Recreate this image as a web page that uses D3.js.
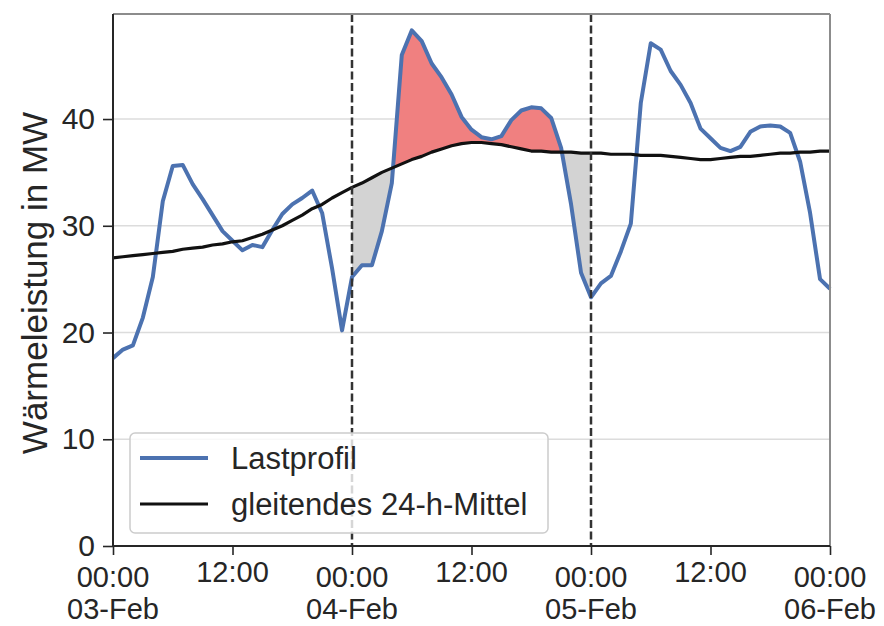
<!DOCTYPE html>
<html>
<head>
<meta charset="utf-8">
<script src="https://cdn.jsdelivr.net/npm/d3@7"></script>
<style>
  body { margin: 0; background: #fff; }
  text { font-family: "Liberation Sans", Arial, sans-serif; fill: #262626; }
</style>
</head>
<body>
<svg id="chart" width="884" height="626"></svg>
<script>
// stundenwerte 03.02. 00:00 bis 06.02. 00:00
const lastprofil = [
    17.6, 18.4, 18.8, 21.4, 25.2, 32.3, 35.6, 35.7, 33.9, 32.5, 31.0, 29.5,
    28.6, 27.7, 28.2, 28.0, 29.6, 31.1, 32.0, 32.6, 33.3, 31.2, 26.0, 20.2,
    25.2, 26.3, 26.3, 29.5, 34.0, 46.0, 48.3, 47.3, 45.2, 43.9, 42.3, 40.2,
    39.0, 38.3, 38.1, 38.4, 39.9, 40.8, 41.1, 41.0, 40.1, 37.3, 32.0, 25.6,
    23.3, 24.6, 25.3, 27.6, 30.2, 41.5, 47.1, 46.5, 44.5, 43.2, 41.5, 39.1,
    38.2, 37.3, 37.0, 37.4, 38.8, 39.3, 39.4, 39.3, 38.7, 36.0, 31.2, 25.0,
    24.1
]
const mittel = [
    27.0, 27.1, 27.2, 27.3, 27.4, 27.5, 27.6, 27.8, 27.9, 28.0, 28.2, 28.3,
    28.5, 28.6, 28.9, 29.2, 29.6, 30.0, 30.5, 31.0, 31.6, 32.0, 32.6, 33.1,
    33.6, 34.0, 34.5, 35.0, 35.4, 35.8, 36.2, 36.5, 36.9, 37.2, 37.5, 37.7,
    37.8, 37.8, 37.7, 37.6, 37.4, 37.2, 37.0, 37.0, 36.9, 36.9, 36.9, 36.8,
    36.8, 36.8, 36.7, 36.7, 36.7, 36.6, 36.6, 36.6, 36.5, 36.4, 36.3, 36.2,
    36.2, 36.3, 36.4, 36.5, 36.5, 36.6, 36.7, 36.8, 36.8, 36.9, 36.9, 37.0,
    37.0
]
const yTicks = [0, 10, 20, 30, 40]
const xTickHours = [0, 12, 24, 36, 48, 60, 72]
const dayLines = [24, 48]
const fillRange = [24, 48]
const legendLabels = ['Lastprofil', 'gleitendes 24-h-Mittel']

const start = new Date(Date.UTC(2020, 1, 3))
const t = h => new Date(start.getTime() + h * 3600e3)

const mLeft = 113, mRight = 830, mTop = 14, mBottom = 546

const x = d3.scaleUtc()
            .domain([t(0), t(72)])
            .range([mLeft, mRight])
const y = d3.scaleLinear()
            .domain([0, 49.84])
            .range([mBottom, mTop])

const svg = d3.select('#chart')
svg.append('rect').attr('width', 884).attr('height', 626).attr('fill', '#fff')

// grid
svg.append('g')
    .selectAll('line')
    .data(yTicks)
    .enter()
    .append('line')
    .attr('x1', mLeft).attr('x2', mRight)
    .attr('y1', d => y(d)).attr('y2', d => y(d))
    .attr('stroke', '#dcdcdc')
    .attr('stroke-width', 1.5)

// flaechen zwischen lastprofil und mittel am 04.02.
const pts = []
for (let i = fillRange[0]; i <= fillRange[1]; i++) {
    pts.push({ h: i, last: lastprofil[i], avg: mittel[i] })
    if (i < fillRange[1]) {
        const d0 = lastprofil[i] - mittel[i]
        const d1 = lastprofil[i + 1] - mittel[i + 1]
        if (d0 * d1 < 0) {
            const f = d0 / (d0 - d1)
            const v = mittel[i] + f * (mittel[i + 1] - mittel[i])
            pts.push({ h: i + f, last: v, avg: v })
        }
    }
}

const areaAbove = d3.area()
    .x(d => x(t(d.h)))
    .y0(d => y(d.avg))
    .y1(d => y(Math.max(d.last, d.avg)))
const areaBelow = d3.area()
    .x(d => x(t(d.h)))
    .y0(d => y(d.avg))
    .y1(d => y(Math.min(d.last, d.avg)))

svg.append('path').attr('d', areaAbove(pts)).attr('fill', '#f08080')
svg.append('path').attr('d', areaBelow(pts)).attr('fill', '#d3d3d3')

const line = d3.line()
    .x((d, i) => x(t(i)))
    .y(d => y(d))

svg.append('path')
    .attr('d', line(lastprofil))
    .attr('fill', 'none')
    .attr('stroke', '#4c72b0')
    .attr('stroke-width', 4)
    .attr('stroke-linejoin', 'round')

svg.append('path')
    .attr('d', line(mittel))
    .attr('fill', 'none')
    .attr('stroke', '#111')
    .attr('stroke-width', 3.2)
    .attr('stroke-linejoin', 'round')

// tagesgrenzen
svg.append('g')
    .selectAll('line')
    .data(dayLines)
    .enter()
    .append('line')
    .attr('x1', d => x(t(d))).attr('x2', d => x(t(d)))
    .attr('y1', mTop).attr('y2', mBottom)
    .attr('stroke', '#333')
    .attr('stroke-width', 2.5)
    .attr('stroke-dasharray', '8,3.5')

// rahmen
svg.append('line').attr('x1', mLeft).attr('x2', mRight).attr('y1', mTop).attr('y2', mTop)
    .attr('stroke', '#8c8c8c').attr('stroke-width', 2)
svg.append('line').attr('x1', mRight).attr('x2', mRight).attr('y1', mTop).attr('y2', mBottom)
    .attr('stroke', '#8c8c8c').attr('stroke-width', 2)
svg.append('line').attr('x1', mLeft).attr('x2', mLeft).attr('y1', mTop).attr('y2', mBottom + 1)
    .attr('stroke', '#262626').attr('stroke-width', 2)
svg.append('line').attr('x1', mLeft - 1).attr('x2', mRight).attr('y1', mBottom).attr('y2', mBottom)
    .attr('stroke', '#262626').attr('stroke-width', 2)

// achsen
const yAxis = svg.append('g')
    .attr('transform', `translate(${mLeft},0)`)
    .call(d3.axisLeft(y).tickValues(yTicks).tickSize(10).tickPadding(8))
yAxis.select('.domain').remove()
yAxis.selectAll('line').attr('stroke', '#262626').attr('stroke-width', 1.6)
yAxis.selectAll('text')
    .attr('font-size', 30)
    .attr('fill', '#262626')
    .style('font-family', '"Liberation Sans", Arial, sans-serif')

const xAxis = svg.append('g')
    .attr('transform', `translate(0,${mBottom})`)
    .call(d3.axisBottom(x).tickValues(xTickHours.map(t)).tickSize(9).tickFormat(''))
xAxis.select('.domain').remove()
xAxis.selectAll('line').attr('stroke', '#262626').attr('stroke-width', 1.6)

const fmtTime = d3.utcFormat('%H:%M')
const fmtDay = d3.utcFormat('%d-%b')

const xLabels = svg.append('g')
    .selectAll('text')
    .data(xTickHours)
    .enter()
    .append('text')
    .attr('text-anchor', 'middle')
    .attr('font-size', 29)
    .attr('x', d => x(t(d)))
    .attr('y', d => d % 24 === 0 ? 587 : 582)

xLabels.append('tspan')
    .attr('x', d => x(t(d)))
    .text(d => fmtTime(t(d)))
xLabels.filter(d => d % 24 === 0)
    .append('tspan')
    .attr('x', d => x(t(d)))
    .attr('dy', 32)
    .text(d => fmtDay(t(d)))

svg.append('text')
    .attr('transform', 'translate(47,283) rotate(-90)')
    .attr('text-anchor', 'middle')
    .attr('font-size', 35)
    .text('Wärmeleistung in MW')

// legende
const legend = svg.append('g')
legend.append('rect')
    .attr('x', 130).attr('y', 433)
    .attr('width', 418).attr('height', 100)
    .attr('rx', 5)
    .attr('fill', '#fff').attr('fill-opacity', 0.8)
    .attr('stroke', '#cccccc').attr('stroke-width', 1.5)

const legendColors = ['#4c72b0', '#111']
const legendWidths = [4, 3.2]
legendLabels.forEach((label, i) => {
    const ly = 458 + i * 46
    legend.append('line')
        .attr('x1', 140).attr('x2', 208)
        .attr('y1', ly).attr('y2', ly)
        .attr('stroke', legendColors[i])
        .attr('stroke-width', legendWidths[i])
    legend.append('text')
        .attr('x', 231).attr('y', ly + 11)
        .attr('font-size', 31)
        .text(label)
})
</script>
</body>
</html>
